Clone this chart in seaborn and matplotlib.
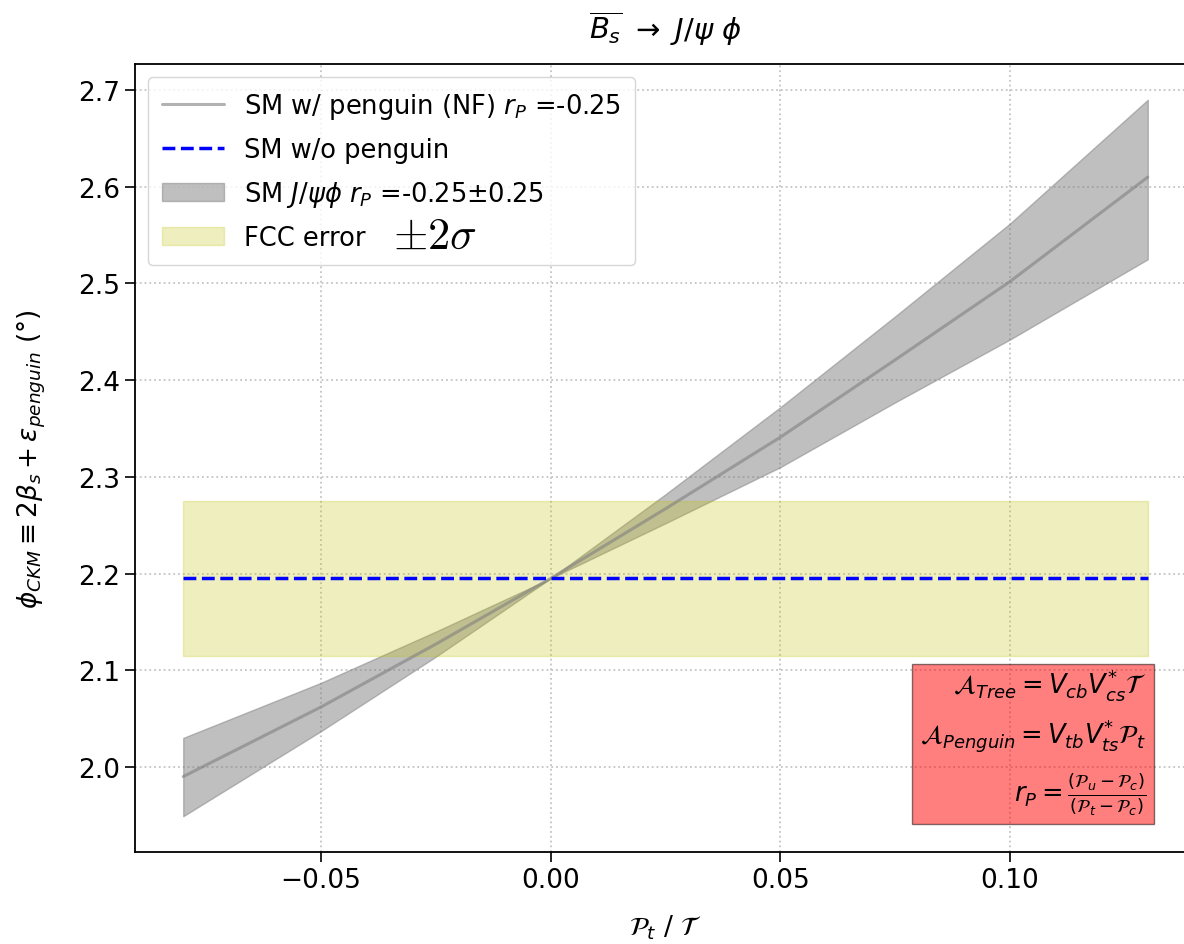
import numpy as np
import pandas as pd
import matplotlib
matplotlib.use("Agg")
import matplotlib.pyplot as plt
import seaborn as sns

# ---- data ----
x_vals = [-0.08, -0.05, -0.025, 0.0, 0.025, 0.05, 0.075, 0.10, 0.13]
center = [1.990, 2.062, 2.127, 2.195, 2.267, 2.341, 2.421, 2.502, 2.610]
upper = [2.030, 2.087, 2.140, 2.195, 2.282, 2.372, 2.466, 2.562, 2.690]
lower = [1.949, 2.037, 2.114, 2.195, 2.252, 2.310, 2.377, 2.442, 2.525]
x_range = [-0.08, 0.13]
no_penguin = [2.195, 2.195]
fcc_low = [2.115, 2.115]
fcc_high = [2.275, 2.275]

sns.set_style("ticks")
plt.rcParams['font.family'] = ['DejaVu Sans']
for k in ['text.color', 'axes.labelcolor', 'xtick.color', 'ytick.color', 'axes.edgecolor']:
    plt.rcParams[k] = 'black'

fig = plt.figure(figsize=(11.84, 9.45), dpi=100)
ax = fig.add_axes([135/1184, 92/945, 1061/1184, 788/945])

df = pd.DataFrame({"x": x_vals, "y": center})
df2 = pd.DataFrame({"x": x_range, "y": no_penguin})

sns.lineplot(data=df, x="x", y="y", ax=ax, color="gray", alpha=0.6, lw=2.2,
             label=r"SM w/ penguin (NF) $r_P$ =-0.25")
sns.lineplot(data=df2, x="x", y="y", ax=ax, color="blue", lw=2.5, ls="--",
             dashes=(4, 1.6), label="SM w/o penguin")
ax.fill_between(x_vals, lower, upper, color="gray", alpha=0.5,
                label=r"SM $J/\psi\phi$ $r_P$ =-0.25$\pm$0.25")
ax.fill_between(x_range, fcc_low, fcc_high, color="y", alpha=0.25,
                label="FCC error")

ax.set_xlim(-0.0905, 0.1405)
ax.set_ylim(1.912, 2.727)
ax.set_xticks([-0.05, 0.0, 0.05, 0.10])
ax.set_yticks([2.0, 2.1, 2.2, 2.3, 2.4, 2.5, 2.6, 2.7])
ax.tick_params(labelsize=19, length=7, width=1.2)
ax.grid(True, ls=":", color="#c4c4c4", lw=1.3)
for s in ax.spines.values():
    s.set_linewidth(1.3)

ax.set_title(r"$\overline{B_s}$ $\rightarrow$ $J/\psi$ $\phi$", fontsize=21, pad=18)
ax.set_xlabel(r"$\mathcal{P}_t$ / $\mathcal{T}$", fontsize=19, labelpad=14)
ax.set_ylabel(r"$\phi_{CKM} \equiv 2\beta_s + \varepsilon_{penguin}$ (°)", fontsize=19, labelpad=22)

leg = ax.legend(loc="upper left", fontsize=18.5, labelspacing=0.62,
                handlelength=2.4, borderpad=0.55, frameon=True, framealpha=0.8)

fig.text(393/1184, 1 - 236/945, r"$\pm2\sigma$", fontsize=32, math_fontfamily="cm",
         va="center", ha="left")

box_txt = (r"$\mathcal{A}_{Tree} = V_{cb}V_{cs}^{*}\mathcal{T}$" + "\n"
           r"$\mathcal{A}_{Penguin} = V_{tb}V_{ts}^{*}\mathcal{P}_t$" + "\n"
           r"$r_P = \frac{(\mathcal{P}_u - \mathcal{P}_c)}{(\mathcal{P}_t - \mathcal{P}_c)}$")
ax.text(0.953, 0.045, box_txt, transform=ax.transAxes, ha="right", va="bottom",
        fontsize=18.5, linespacing=1.55,
        bbox=dict(boxstyle="square,pad=0.3", facecolor="red", alpha=0.5, edgecolor="black"))

fig.savefig("out.png", dpi=100)
